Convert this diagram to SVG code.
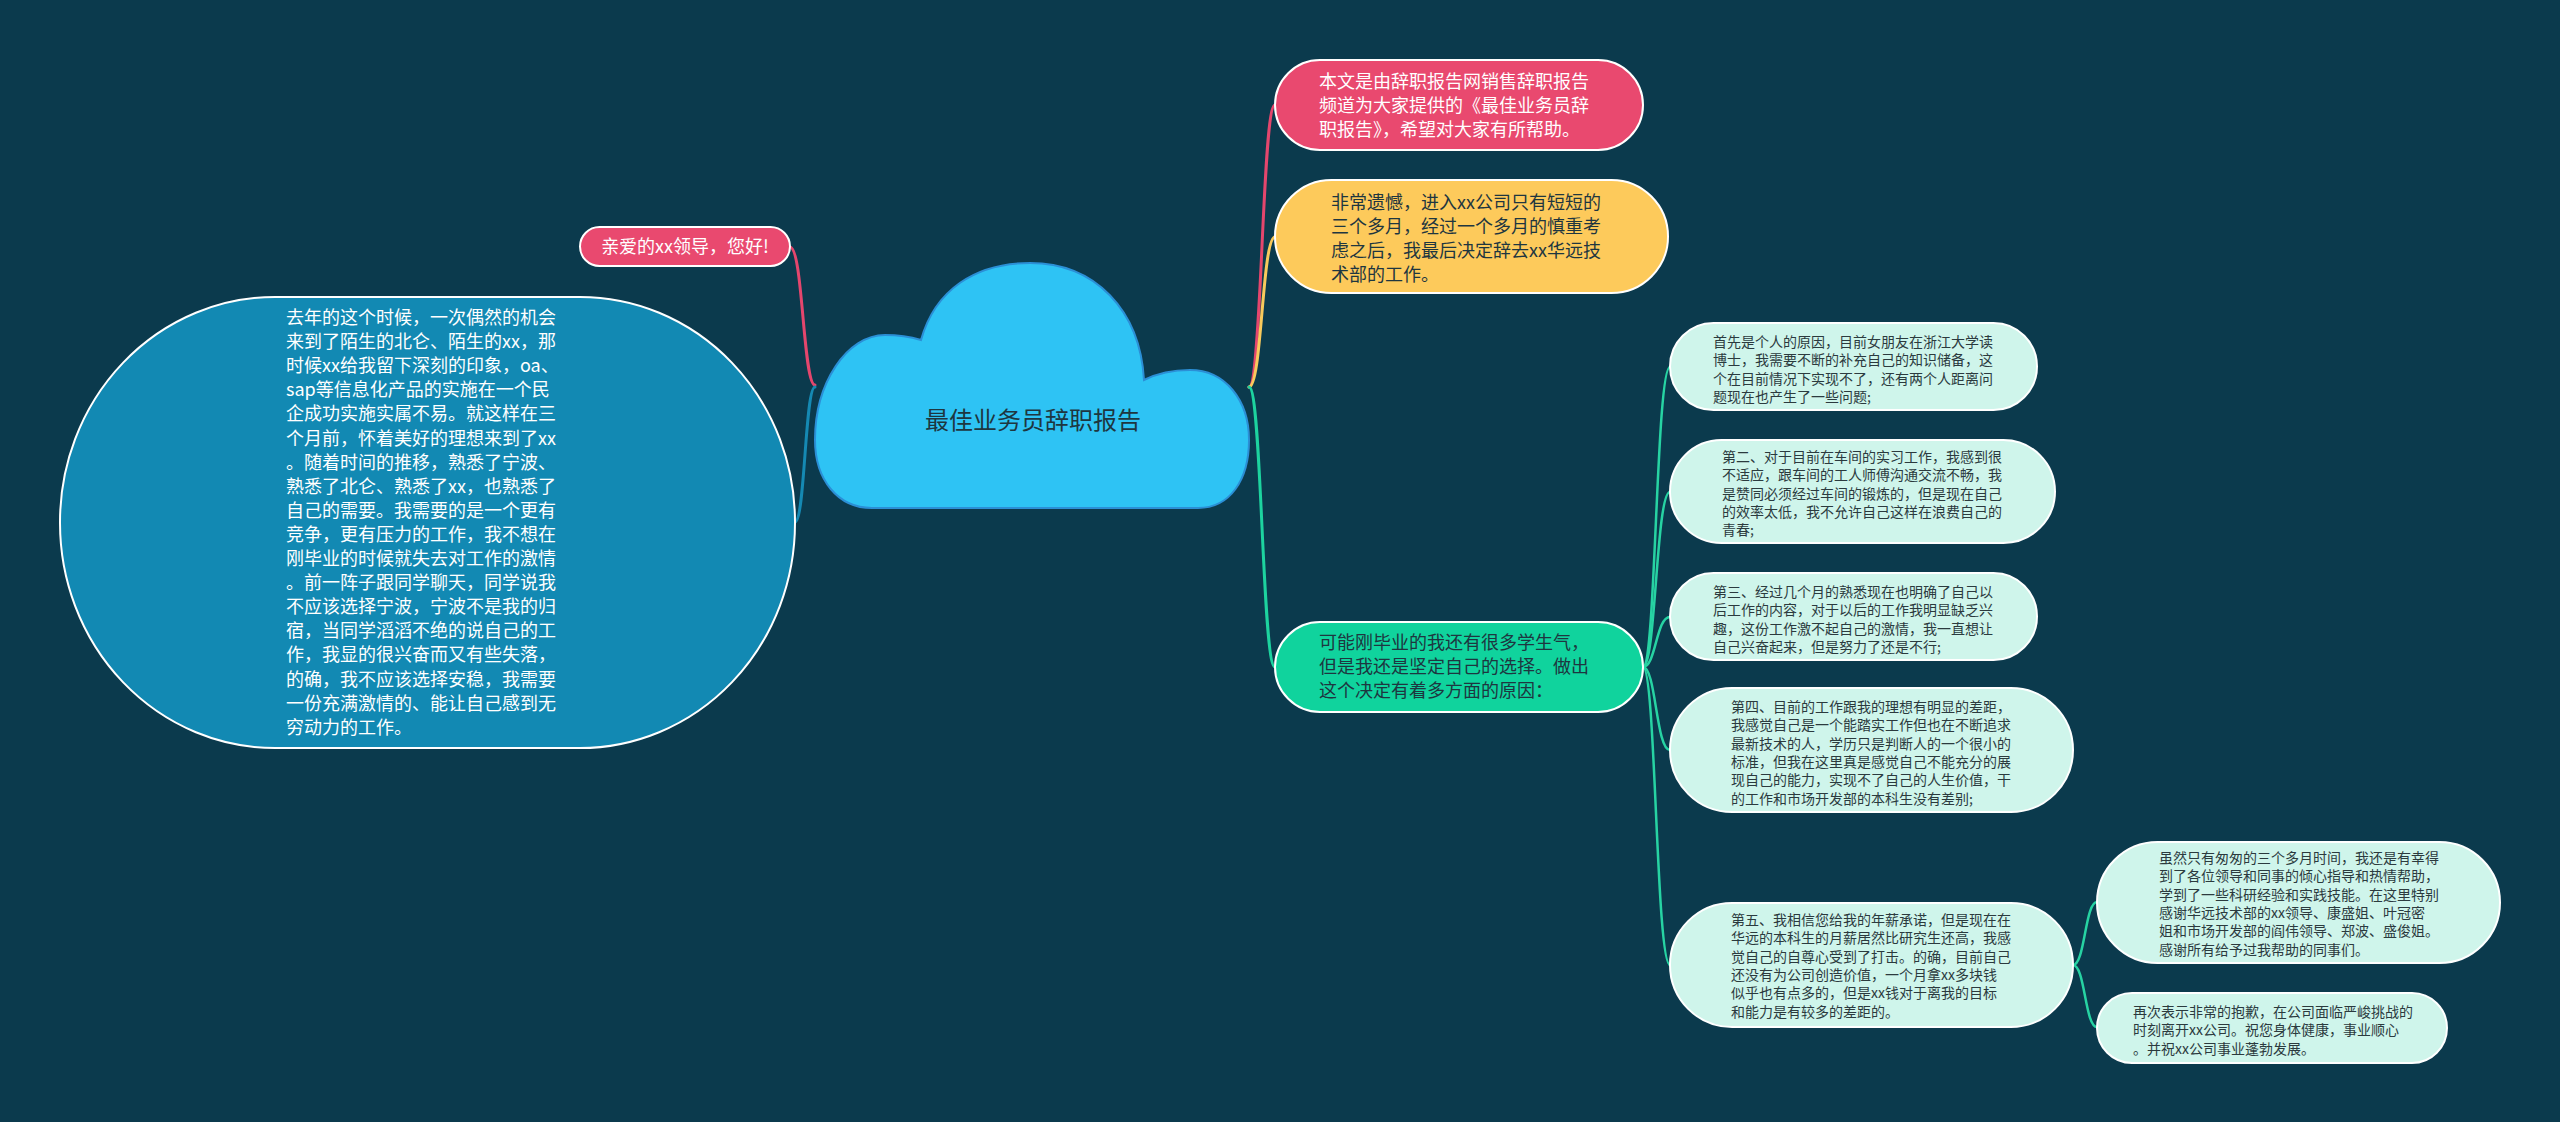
<svg xmlns="http://www.w3.org/2000/svg" width="2560" height="1122" viewBox="0 0 2560 1122">
<style>
text{font-family:"Noto Sans CJK SC","Noto Sans",sans-serif;}
.big{font-size:18px;}
.small{font-size:14px;fill:#2b3a3e;}
.w{fill:#ffffff;}
.d{fill:#1e3640;}
.conn{fill:none;stroke-width:3;stroke-linecap:round;}
.conn2{fill:none;stroke-width:2.5;stroke:#27d3a3;stroke-linecap:round;}
.leaf{fill:#cff5eb;stroke:#ffffff;stroke-width:2;}
</style>
<rect x="0" y="0" width="2560" height="1122" fill="#0b3a4d"/>
<g id="connectors">
<path class="conn" stroke="#e4466d" d="M815 385 C803 385 803 247 790 247"/>
<path class="conn" stroke="#1589b3" d="M815 387 C805 387 805 522 795 522"/>
<path class="conn" stroke="#e4466d" d="M1249 387 C1262 387 1262 105 1275 105"/>
<path class="conn" stroke="#f8c95c" d="M1249 387 C1262 387 1262 237 1275 237"/>
<path class="conn" stroke="#1dd39f" d="M1249 387 C1262 387 1262 667 1275 667"/>
<path class="conn2" d="M1643 667 C1656 667 1656 367 1670 367"/>
<path class="conn2" d="M1643 667 C1656 667 1656 492 1670 492"/>
<path class="conn2" d="M1643 667 C1656 667 1656 617 1670 617"/>
<path class="conn2" d="M1643 667 C1656 667 1656 750 1670 750"/>
<path class="conn2" d="M1643 667 C1656 667 1656 965 1670 965"/>
<path class="conn2" d="M2073 965 C2085 965 2085 902 2097 902"/>
<path class="conn2" d="M2073 965 C2085 965 2085 1027 2097 1027"/>
</g>
<g id="root">
<path d="M872 508 C838 508 815 480 815 440 C815 383 847 335 885 335 C899 335 911 337 921 340 C935 290 975 263 1030 263 C1095 263 1140 310 1144 380 C1160 372 1175 370 1190 370 C1225 370 1249 400 1249 440 C1249 480 1230 508 1198 508 Z" fill="#2ec3f4" stroke="#2b8fd6" stroke-width="2"/>
<text x="1033" y="429" text-anchor="middle" font-size="24" class="d">最佳业务员辞职报告</text>
</g>
<g id="greeting">
<rect x="580" y="227" width="210" height="39" rx="19.5" fill="#e9496f" stroke="#ffffff" stroke-width="2"/>
<text x="685" y="253" text-anchor="middle" class="big w">亲爱的xx领导，您好!</text>
</g>
<g id="story">
<rect x="60" y="297" width="735" height="451" rx="215" ry="225" fill="#1289b3" stroke="#ffffff" stroke-width="2"/>
<text class="big w">
<tspan x="286" y="324">去年的这个时候，一次偶然的机会</tspan>
<tspan x="286" y="348.1">来到了陌生的北仑、陌生的xx，那</tspan>
<tspan x="286" y="372.2">时候xx给我留下深刻的印象，oa、</tspan>
<tspan x="286" y="396.3">sap等信息化产品的实施在一个民</tspan>
<tspan x="286" y="420.4">企成功实施实属不易。就这样在三</tspan>
<tspan x="286" y="444.5">个月前，怀着美好的理想来到了xx</tspan>
<tspan x="286" y="468.6">。随着时间的推移，熟悉了宁波、</tspan>
<tspan x="286" y="492.7">熟悉了北仑、熟悉了xx，也熟悉了</tspan>
<tspan x="286" y="516.8">自己的需要。我需要的是一个更有</tspan>
<tspan x="286" y="540.9">竞争，更有压力的工作，我不想在</tspan>
<tspan x="286" y="565">刚毕业的时候就失去对工作的激情</tspan>
<tspan x="286" y="589.1">。前一阵子跟同学聊天，同学说我</tspan>
<tspan x="286" y="613.2">不应该选择宁波，宁波不是我的归</tspan>
<tspan x="286" y="637.3">宿，当同学滔滔不绝的说自己的工</tspan>
<tspan x="286" y="661.4">作，我显的很兴奋而又有些失落，</tspan>
<tspan x="286" y="685.5">的确，我不应该选择安稳，我需要</tspan>
<tspan x="286" y="709.6">一份充满激情的、能让自己感到无</tspan>
<tspan x="286" y="733.7">穷动力的工作。</tspan>
</text>
</g>
<g id="intro">
<rect x="1275" y="60" width="368" height="90" rx="45" fill="#e9496f" stroke="#ffffff" stroke-width="2"/>
<text class="big w">
<tspan x="1319" y="88">本文是由辞职报告网销售辞职报告</tspan>
<tspan x="1319" y="112">频道为大家提供的《最佳业务员辞</tspan>
<tspan x="1319" y="136">职报告》，希望对大家有所帮助。</tspan>
</text>
</g>
<g id="regret">
<rect x="1275" y="180" width="393" height="113" rx="56.5" fill="#fdca5b" stroke="#ffffff" stroke-width="2"/>
<text class="big d">
<tspan x="1331" y="209">非常遗憾，进入xx公司只有短短的</tspan>
<tspan x="1331" y="233">三个多月，经过一个多月的慎重考</tspan>
<tspan x="1331" y="257">虑之后，我最后决定辞去xx华远技</tspan>
<tspan x="1331" y="281">术部的工作。</tspan>
</text>
</g>
<g id="reasons">
<rect x="1275" y="622" width="368" height="90" rx="45" fill="#10d39d" stroke="#ffffff" stroke-width="2"/>
<text class="big d">
<tspan x="1319" y="649">可能刚毕业的我还有很多学生气，</tspan>
<tspan x="1319" y="673">但是我还是坚定自己的选择。做出</tspan>
<tspan x="1319" y="697">这个决定有着多方面的原因：</tspan>
</text>
</g>
<g id="reason1">
<rect class="leaf" x="1670" y="323" width="367" height="87" rx="43.5"/>
<text class="small">
<tspan x="1713" y="347">首先是个人的原因，目前女朋友在浙江大学读</tspan>
<tspan x="1713" y="365.3">博士，我需要不断的补充自己的知识储备，这</tspan>
<tspan x="1713" y="383.6">个在目前情况下实现不了，还有两个人距离问</tspan>
<tspan x="1713" y="401.9">题现在也产生了一些问题;</tspan>
</text>
</g>
<g id="reason2">
<rect class="leaf" x="1670" y="440" width="385" height="103" rx="51.5"/>
<text class="small">
<tspan x="1722" y="462">第二、对于目前在车间的实习工作，我感到很</tspan>
<tspan x="1722" y="480.3">不适应，跟车间的工人师傅沟通交流不畅，我</tspan>
<tspan x="1722" y="498.6">是赞同必须经过车间的锻炼的，但是现在自己</tspan>
<tspan x="1722" y="516.9">的效率太低，我不允许自己这样在浪费自己的</tspan>
<tspan x="1722" y="535.2">青春;</tspan>
</text>
</g>
<g id="reason3">
<rect class="leaf" x="1670" y="573" width="367" height="87" rx="43.5"/>
<text class="small">
<tspan x="1713" y="597">第三、经过几个月的熟悉现在也明确了自己以</tspan>
<tspan x="1713" y="615.3">后工作的内容，对于以后的工作我明显缺乏兴</tspan>
<tspan x="1713" y="633.6">趣，这份工作激不起自己的激情，我一直想让</tspan>
<tspan x="1713" y="651.9">自己兴奋起来，但是努力了还是不行;</tspan>
</text>
</g>
<g id="reason4">
<rect class="leaf" x="1670" y="688" width="403" height="124" rx="62"/>
<text class="small">
<tspan x="1731" y="712">第四、目前的工作跟我的理想有明显的差距，</tspan>
<tspan x="1731" y="730.3">我感觉自己是一个能踏实工作但也在不断追求</tspan>
<tspan x="1731" y="748.6">最新技术的人，学历只是判断人的一个很小的</tspan>
<tspan x="1731" y="766.9">标准，但我在这里真是感觉自己不能充分的展</tspan>
<tspan x="1731" y="785.2">现自己的能力，实现不了自己的人生价值，干</tspan>
<tspan x="1731" y="803.5">的工作和市场开发部的本科生没有差别;</tspan>
</text>
</g>
<g id="reason5">
<rect class="leaf" x="1670" y="903" width="403" height="124" rx="62"/>
<text class="small">
<tspan x="1731" y="925">第五、我相信您给我的年薪承诺，但是现在在</tspan>
<tspan x="1731" y="943.3">华远的本科生的月薪居然比研究生还高，我感</tspan>
<tspan x="1731" y="961.6">觉自己的自尊心受到了打击。的确，目前自己</tspan>
<tspan x="1731" y="979.9">还没有为公司创造价值，一个月拿xx多块钱</tspan>
<tspan x="1731" y="998.2">似乎也有点多的，但是xx钱对于离我的目标</tspan>
<tspan x="1731" y="1016.5">和能力是有较多的差距的。</tspan>
</text>
</g>
<g id="thanks">
<rect class="leaf" x="2097" y="842" width="403" height="121" rx="60.5"/>
<text class="small">
<tspan x="2159" y="863">虽然只有匆匆的三个多月时间，我还是有幸得</tspan>
<tspan x="2159" y="881.3">到了各位领导和同事的倾心指导和热情帮助，</tspan>
<tspan x="2159" y="899.6">学到了一些科研经验和实践技能。在这里特别</tspan>
<tspan x="2159" y="917.9">感谢华远技术部的xx领导、康盛姐、叶冠密</tspan>
<tspan x="2159" y="936.2">姐和市场开发部的阎伟领导、郑波、盛俊姐。</tspan>
<tspan x="2159" y="954.5">感谢所有给予过我帮助的同事们。</tspan>
</text>
</g>
<g id="apology">
<rect class="leaf" x="2097" y="993" width="350" height="70" rx="35"/>
<text class="small">
<tspan x="2133" y="1017">再次表示非常的抱歉，在公司面临严峻挑战的</tspan>
<tspan x="2133" y="1035.3">时刻离开xx公司。祝您身体健康，事业顺心</tspan>
<tspan x="2133" y="1053.6">。并祝xx公司事业蓬勃发展。</tspan>
</text>
</g>
</svg>
